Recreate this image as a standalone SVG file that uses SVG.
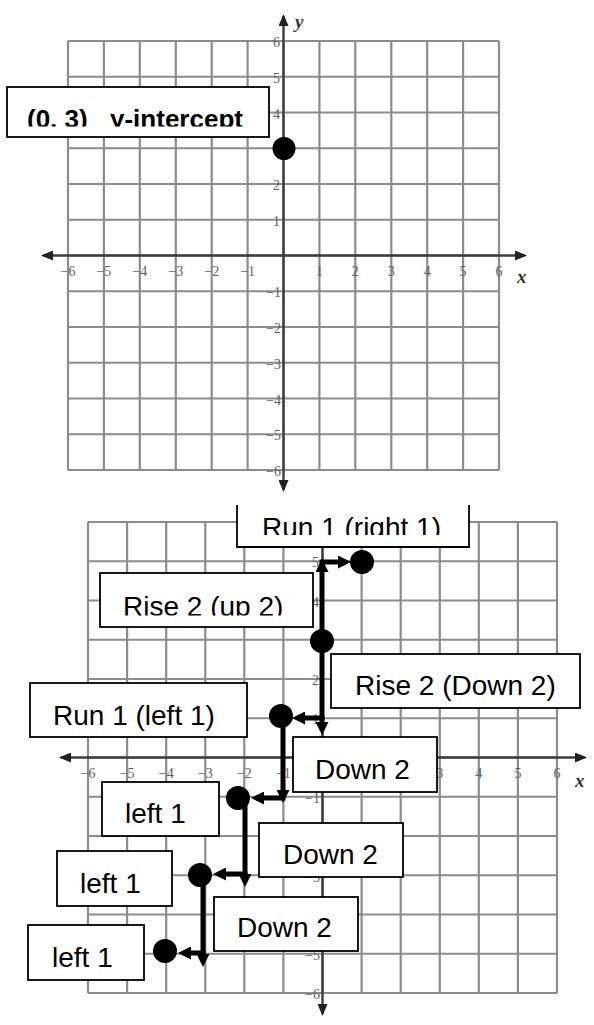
<svg xmlns="http://www.w3.org/2000/svg" width="594" height="1025" viewBox="0 0 594 1025">
<style>
.grid{fill:none;stroke:#8c8c8c;stroke-width:2.2}
.axis{fill:none;stroke:#3c3c3c;stroke-width:2.4}
.tick{font-family:"Liberation Serif",serif;font-size:14px;fill:#5e5e5e}
.tx{text-anchor:middle}
.ty{text-anchor:end}
.axl{font-family:"Liberation Serif",serif;font-style:italic;font-weight:bold;font-size:19px;fill:#333}
.box{fill:#fff;stroke:#000;stroke-width:1.8}
.lbl{font-family:"Liberation Sans",Arial,sans-serif;font-size:28px;fill:#000}
.lblb{font-family:"Liberation Sans",Arial,sans-serif;font-size:26px;font-weight:bold;fill:#000}
.dot{fill:#000}
.conn{fill:none;stroke:#000;stroke-width:5}
</style>
<defs>
<marker id="axh" viewBox="0 0 12 10" refX="10" refY="5" markerWidth="12" markerHeight="10" markerUnits="userSpaceOnUse" orient="auto">
<path d="M0,0 L12,5 L0,10 z" fill="#222"/>
</marker>
<marker id="ah" viewBox="0 0 13 13" refX="8" refY="6.5" markerWidth="13" markerHeight="13" markerUnits="userSpaceOnUse" orient="auto">
<path d="M0,0 L13,6.5 L0,13 z" fill="#000"/>
</marker>
<clipPath id="c1"><rect x="0" y="0" width="594" height="126.5"/></clipPath>
<clipPath id="c2"><rect x="0" y="0" width="594" height="535"/></clipPath>
<clipPath id="c3"><rect x="0" y="0" width="594" height="615.5"/></clipPath>
</defs>

<!-- top graph -->
<g id="graph-top">
<path class="grid" d="M68,41V470M103.9,41V470M139.8,41V470M175.8,41V470M211.7,41V470M247.6,41V470M283.5,41V470M319.4,41V470M355.3,41V470M391.3,41V470M427.2,41V470M463.1,41V470M499,41V470M68,41H499M68,76.75H499M68,112.5H499M68,148.25H499M68,184H499M68,219.75H499M68,255.5H499M68,291.25H499M68,327H499M68,362.75H499M68,398.5H499M68,434.25H499M68,470H499"/>
<line class="axis" x1="283.5" y1="250" x2="283.5" y2="16" marker-end="url(#axh)"/>
<line class="axis" x1="283.5" y1="250" x2="283.5" y2="490" marker-end="url(#axh)"/>
<line class="axis" x1="283.5" y1="255.5" x2="43" y2="255.5" marker-end="url(#axh)"/>
<line class="axis" x1="283.5" y1="255.5" x2="525" y2="255.5" marker-end="url(#axh)"/>
<g class="tick tx">
<text x="68" y="276">−6</text><text x="103.9" y="276">−5</text><text x="139.8" y="276">−4</text><text x="175.8" y="276">−3</text><text x="211.7" y="276">−2</text><text x="247.6" y="276">−1</text>
<text x="319.4" y="276">1</text><text x="355.3" y="276">2</text><text x="391.3" y="276">3</text><text x="427.2" y="276">4</text><text x="463.1" y="276">5</text><text x="499" y="276">6</text>
</g>
<g class="tick ty">
<text x="280" y="47">6</text><text x="280" y="82.75">5</text><text x="280" y="118.5">4</text><text x="280" y="190">2</text><text x="280" y="225.75">1</text>
<text x="281" y="297.25">−1</text><text x="281" y="333">−2</text><text x="281" y="368.75">−3</text><text x="281" y="404.5">−4</text><text x="281" y="440.25">−5</text><text x="281" y="476">−6</text>
</g>
<text class="axl" x="295" y="28">y</text>
<text class="axl" x="517" y="283">x</text>
</g>

<!-- bottom graph -->
<g id="graph-bottom">
<path class="grid" d="M88,522V993M127.1,522V993M166.2,522V993M205.3,522V993M244.3,522V993M283.4,522V993M322.5,522V993M361.6,522V993M400.7,522V993M439.8,522V993M478.8,522V993M517.9,522V993M557,522V993M88,522H557M88,561.25H557M88,600.5H557M88,639.75H557M88,679H557M88,718.25H557M88,757.5H557M88,796.75H557M88,836H557M88,875.25H557M88,914.5H557M88,953.75H557M88,993H557"/>
<line class="axis" x1="322.5" y1="752" x2="322.5" y2="511" marker-end="url(#axh)"/>
<line class="axis" x1="322.5" y1="752" x2="322.5" y2="1014" marker-end="url(#axh)"/>
<line class="axis" x1="322.5" y1="757.5" x2="61" y2="757.5" marker-end="url(#axh)"/>
<line class="axis" x1="322.5" y1="757.5" x2="585" y2="757.5" marker-end="url(#axh)"/>
<g class="tick tx">
<text x="88" y="778">−6</text><text x="127.1" y="778">−5</text><text x="166.2" y="778">−4</text><text x="205.3" y="778">−3</text><text x="244.3" y="778">−2</text><text x="283.4" y="778">−1</text>
<text x="439.8" y="778">3</text><text x="478.8" y="778">4</text><text x="517.9" y="778">5</text><text x="557" y="778">6</text>
</g>
<g class="tick ty">
<text x="319" y="567.25">5</text><text x="319" y="606.5">4</text><text x="319" y="685">2</text><text x="319" y="724.25">1</text>
<text x="320" y="802.75">−1</text><text x="320" y="882">−3</text><text x="320" y="959.75">−5</text><text x="320" y="999">−6</text>
</g>
<text class="axl" x="575" y="787">x</text>
</g>

<!-- connectors -->
<g id="connectors">
<line class="conn" x1="322" y1="640" x2="322" y2="564" marker-end="url(#ah)"/>
<line class="conn" x1="319.5" y1="562" x2="346" y2="562" marker-end="url(#ah)"/>
<line class="conn" x1="322" y1="640" x2="322" y2="730" marker-end="url(#ah)"/>
<line class="conn" x1="324.5" y1="718" x2="297" y2="718" marker-end="url(#ah)"/>
<line class="conn" x1="283" y1="716" x2="283" y2="798" marker-end="url(#ah)"/>
<line class="conn" x1="285.5" y1="798" x2="256" y2="798" marker-end="url(#ah)"/>
<line class="conn" x1="245" y1="798" x2="245" y2="882" marker-end="url(#ah)"/>
<line class="conn" x1="247.5" y1="874" x2="218" y2="874" marker-end="url(#ah)"/>
<line class="conn" x1="203" y1="875" x2="203" y2="962" marker-end="url(#ah)"/>
<line class="conn" x1="205.5" y1="953" x2="183" y2="953" marker-end="url(#ah)"/>
</g>

<!-- points -->
<g id="pt-top"><circle class="dot" cx="284" cy="148.5" r="11.5"/></g>
<g id="pt-A"><circle class="dot" cx="362" cy="562" r="12"/></g>
<g id="pt-B"><circle class="dot" cx="322" cy="641" r="12"/></g>
<g id="pt-C"><circle class="dot" cx="281" cy="716" r="12"/></g>
<g id="pt-D"><circle class="dot" cx="238" cy="798" r="12"/></g>
<g id="pt-E"><circle class="dot" cx="200" cy="875" r="12"/></g>
<g id="pt-F"><circle class="dot" cx="165" cy="951" r="12"/></g>

<!-- labels -->
<g id="lbl-intercept">
<rect class="box" x="7" y="87" width="262" height="50"/>
<text class="lblb" y="127.5" clip-path="url(#c1)"><tspan x="27">(0, 3)</tspan><tspan x="110">y-intercept</tspan></text>
</g>
<g id="lbl-run-right">
<rect x="237" y="505" width="232" height="42" fill="#fff"/>
<path d="M237,505V547H469V505" fill="none" stroke="#000" stroke-width="1.8"/>
<text class="lbl" x="262" y="537" clip-path="url(#c2)">Run 1 (right 1)</text>
</g>
<g id="lbl-rise-up">
<rect class="box" x="100" y="573" width="213" height="54"/>
<text class="lbl" x="123" y="616" clip-path="url(#c3)">Rise 2 (up 2)</text>
</g>
<g id="lbl-rise-down">
<rect class="box" x="331" y="654" width="249" height="54"/>
<text class="lbl" x="355" y="695">Rise 2 (Down 2)</text>
</g>
<g id="lbl-run-left">
<rect class="box" x="30" y="683" width="217" height="54"/>
<text class="lbl" x="53" y="725">Run 1 (left 1)</text>
</g>
<g id="lbl-down-1">
<rect class="box" x="293" y="737" width="144" height="55"/>
<text class="lbl" x="315" y="779">Down 2</text>
</g>
<g id="lbl-left-1">
<rect class="box" x="102" y="782" width="117" height="54"/>
<text class="lbl" x="125" y="823">left 1</text>
</g>
<g id="lbl-down-2">
<rect class="box" x="259" y="823" width="144" height="54"/>
<text class="lbl" x="283" y="864">Down 2</text>
</g>
<g id="lbl-left-2">
<rect class="box" x="57" y="851" width="115" height="55"/>
<text class="lbl" x="80" y="893">left 1</text>
</g>
<g id="lbl-down-3">
<rect class="box" x="214" y="897" width="144" height="54"/>
<text class="lbl" x="237" y="937">Down 2</text>
</g>
<g id="lbl-left-3">
<rect class="box" x="28" y="925" width="116" height="55"/>
<text class="lbl" x="52" y="967">left 1</text>
</g>
</svg>
